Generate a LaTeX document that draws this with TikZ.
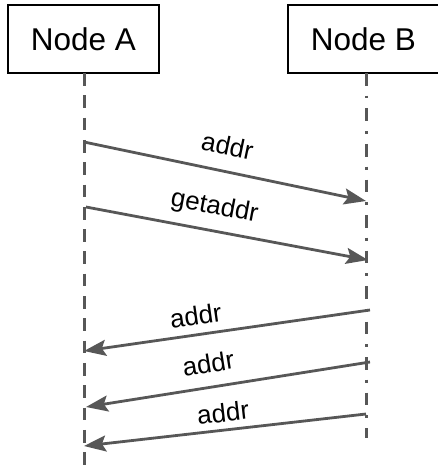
\documentclass[tikz,border=0pt]{standalone}
\usepackage{fontspec}
\setmainfont{Liberation Sans}
\usetikzlibrary{arrows.meta}
\definecolor{linegray}{HTML}{575757}
\begin{document}
\begin{tikzpicture}[x=1pt,y=-1pt,
  actor/.style={draw=black, line width=2.6pt, minimum width=151pt, minimum height=68pt,
    inner sep=0pt, font=\fontsize{31.5}{34}\selectfont},
  lifeA/.style={draw=linegray, line width=3pt, dash pattern=on 12.7pt off 9.6pt},
  lifeB/.style={draw=linegray, line width=3pt, dash pattern=on 12.7pt off 10pt on 2.8pt off 10pt},
  msg/.style={draw=linegray, line width=2.8pt,
    -{Stealth[length=22pt, width=16pt, inset=4pt]}},
  lbl/.style={font=\fontsize{26}{28}\selectfont, sloped, inner sep=0pt}]
\useasboundingbox (0,0) rectangle (438,465);

% participants
\node[actor] (A) at (83.5,39) {Node A};
\node[actor] (B) at (363.5,39) {Node B};

% lifelines
\coordinate (Atop) at (84,73);
\coordinate (Abot) at (84,465);
\coordinate (Btop) at (366,73);
\coordinate (Bbot) at (366,438);
\draw[lifeA] (Atop) -- (Abot);
\draw[lifeB] (Btop) -- (Bbot);

% message end points
\coordinate (m1s) at (84,142);  \coordinate (m1e) at (366,201);
\coordinate (m2s) at (86,207);  \coordinate (m2e) at (368,260);
\coordinate (m3s) at (370,310); \coordinate (m3e) at (84,351);
\coordinate (m4s) at (370,362); \coordinate (m4e) at (86,407);
\coordinate (m5s) at (366,414); \coordinate (m5e) at (84,446);

% messages
\draw[msg] (m1s) -- node[lbl, pos=0.49, above=15pt] {addr} (m1e);
\draw[msg] (m2s) -- node[lbl, pos=0.44, above=10pt] {getaddr} (m2e);
\draw[msg] (m3s) -- node[lbl, pos=0.6, above=8pt] {addr} (m3e);
\draw[msg] (m4s) -- node[lbl, pos=0.556, above=13pt] {addr} (m4e);
\draw[msg] (m5s) -- node[lbl, pos=0.5, above=6.5pt] {addr} (m5e);
\end{tikzpicture}
\end{document}
